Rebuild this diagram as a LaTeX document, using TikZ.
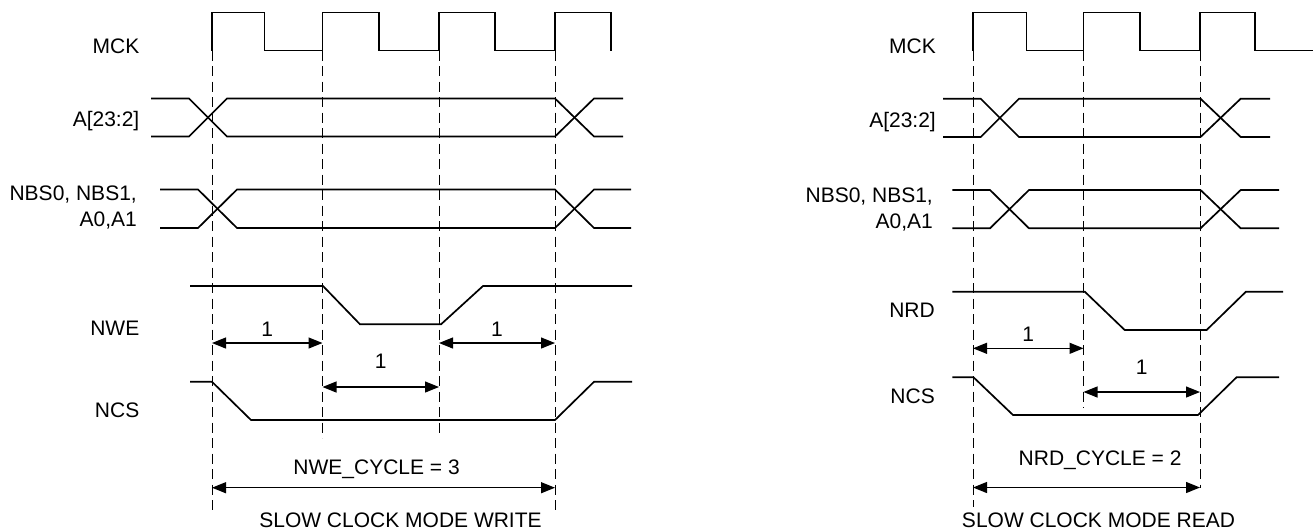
\documentclass[tikz,border=0pt]{standalone}
\usepackage{fontspec}
\setmainfont{Liberation Sans}
\usetikzlibrary{arrows.meta,positioning}
\tikzset{
  wave/.style={line width=1.7pt, line join=miter, draw=black},
  guide/.style={line width=1pt, dash pattern=on 10pt off 5.5pt, draw=black},
  dimline/.style={{Triangle[length=14pt,width=11pt]}-{Triangle[length=14pt,width=11pt]}, line width=1.2pt, draw=black},
  sig/.style={anchor=east, align=right, inner sep=0pt, font=\fontsize{21}{26}\selectfont},
  note/.style={inner sep=0pt, font=\fontsize{21}{25}\selectfont}
}

\begin{document}
\begin{tikzpicture}[x=1pt, y=-1pt]
  \useasboundingbox (0,0) rectangle (1313,531);
  \fill[white] (0,0) rectangle (1313,531);

  % slow clock mode write
  \node[sig] (mckw) at (139.5,46.3) {MCK};
  \node[sig] (addrw) at (139.5,121.5) {A[23:2]};
  \node[sig] (nbsw) at (137,208) {NBS0, NBS1,\\A0,A1};
  \node[sig] (nwe) at (139.5,328.7) {NWE};
  \node[sig] (ncsw) at (139.5,409.8) {NCS};

  \coordinate (w1) at (212,50.5);
  \coordinate (w2) at (322.5,50.5);
  \coordinate (w3) at (439,50.5);
  \coordinate (w4) at (555,50.5);

  \draw[wave] (w1) |- (264.5,12.5) |- (w2) |- (379,12.5) |- (w3) |- (495,12.5) |- (w4) |- (611,12.5) -- (611,50.5);
  \draw[wave] (151,98.5) -- (189,98.5) -- (227,136.5) -- (555,136.5) -- (594,98.5) -- (623,98.5);
  \draw[wave] (151,136.5) -- (189,136.5) -- (227,98.5) -- (555,98.5) -- (594,136.5) -- (623,136.5);
  \draw[wave] (160,189.5) -- (198,189.5) -- (237,228) -- (555,228) -- (594,189.5) -- (631,189.5);
  \draw[wave] (160,228) -- (198,228) -- (237,189.5) -- (555,189.5) -- (594,228) -- (631,228);
  \draw[wave] (190,286) -- (323,286) -- (360,324.3) -- (441,324.3) -- (483,286) -- (632,286);
  \draw[wave] (190,381.8) -- (212,381.8) -- (251,420) -- (555,420) -- (594,381.8) -- (632,381.8);

  \draw[guide] (w1) -- ++(0,459.5);
  \draw[guide] (w2) -- ++(0,387.5);
  \draw[guide] (w3) -- ++(0,386.5);
  \draw[guide] (w4) -- ++(0,459.5);

  \coordinate (wd1) at (0,343);
  \coordinate (wd2) at (0,387);
  \coordinate (wd3) at (0,487.7);
  \draw[dimline] (w1 |- wd1) -- node[note, above=6pt] (wt1) {1} (w2 |- wd1);
  \draw[dimline] (w2 |- wd2) -- node[note, above=17.5pt] (wt2) {1} (w3 |- wd2);
  \draw[dimline] (w3 |- wd1) -- node[note, above=6pt] (wt3) {1} (w4 |- wd1);
  \draw[dimline] (w1 |- wd3) -- node[note, above=8pt, pos=0.48] (wcyc) {NWE\_CYCLE = 3} (w4 |- wd3);
  \node[note] (titlew) at (400.5,520) {SLOW CLOCK MODE WRITE};

  % slow clock mode read
  \node[sig] (mckr) at (936,45.8) {MCK};
  \node[sig] (addrr) at (936,122) {A[23:2]};
  \node[sig] (nbsr) at (933,210) {NBS0, NBS1,\\A0,A1};
  \node[sig] (nrd) at (935,310.3) {NRD};
  \node[sig] (ncsr) at (935,396) {NCS};

  \coordinate (r1) at (973,50.5);
  \coordinate (r2) at (1083.5,50.5);
  \coordinate (r3) at (1200,50.5);

  \draw[wave] (r1) |- (1026.5,12.5) |- (r2) |- (1140,12.5) |- (r3) |- (1255,12.5) |- (1313,50.5);
  \draw[wave] (943,98.7) -- (980.7,98.7) -- (1019,137) -- (1200.5,137) -- (1240.7,98.7) -- (1270,98.7);
  \draw[wave] (943,137) -- (980.7,137) -- (1019,98.7) -- (1200.5,98.7) -- (1240.7,137) -- (1270,137);
  \draw[wave] (952.4,190) -- (990,190) -- (1029,228.3) -- (1200.5,228.3) -- (1240.7,190) -- (1279,190);
  \draw[wave] (952.4,228.3) -- (990,228.3) -- (1029,190) -- (1200.5,190) -- (1240.7,228.3) -- (1279,228.3);
  \draw[wave] (952.4,291.7) -- (1084.8,291.7) -- (1124.7,330) -- (1206.6,330) -- (1245.9,291.7) -- (1283,291.7);
  \draw[wave] (952.4,377.3) -- (973.5,377.3) -- (1013,415) -- (1198,415) -- (1236.5,377.3) -- (1279,377.3);

  \draw[guide] (r1) -- ++(0,456.5);
  \draw[guide] (r2) -- ++(0,357.5);
  \draw[guide] (r3) -- ++(0,437.5);

  \coordinate (rd1) at (0,348.3);
  \coordinate (rd2) at (0,392);
  \coordinate (rd3) at (0,487.5);
  \draw[dimline] (r1 |- rd1) -- node[note, above=6pt] (rt1) {1} (r2 |- rd1);
  \draw[dimline] (r2 |- rd2) -- node[note, above=16.5pt] (rt2) {1} (r3 |- rd2);
  \draw[dimline] (r1 |- rd3) -- node[note, above=17pt, pos=0.56] (rcyc) {NRD\_CYCLE = 2} (r3 |- rd3);
  \node[note] (titler) at (1098.5,520.5) {SLOW CLOCK MODE READ};
\end{tikzpicture}
\end{document}
